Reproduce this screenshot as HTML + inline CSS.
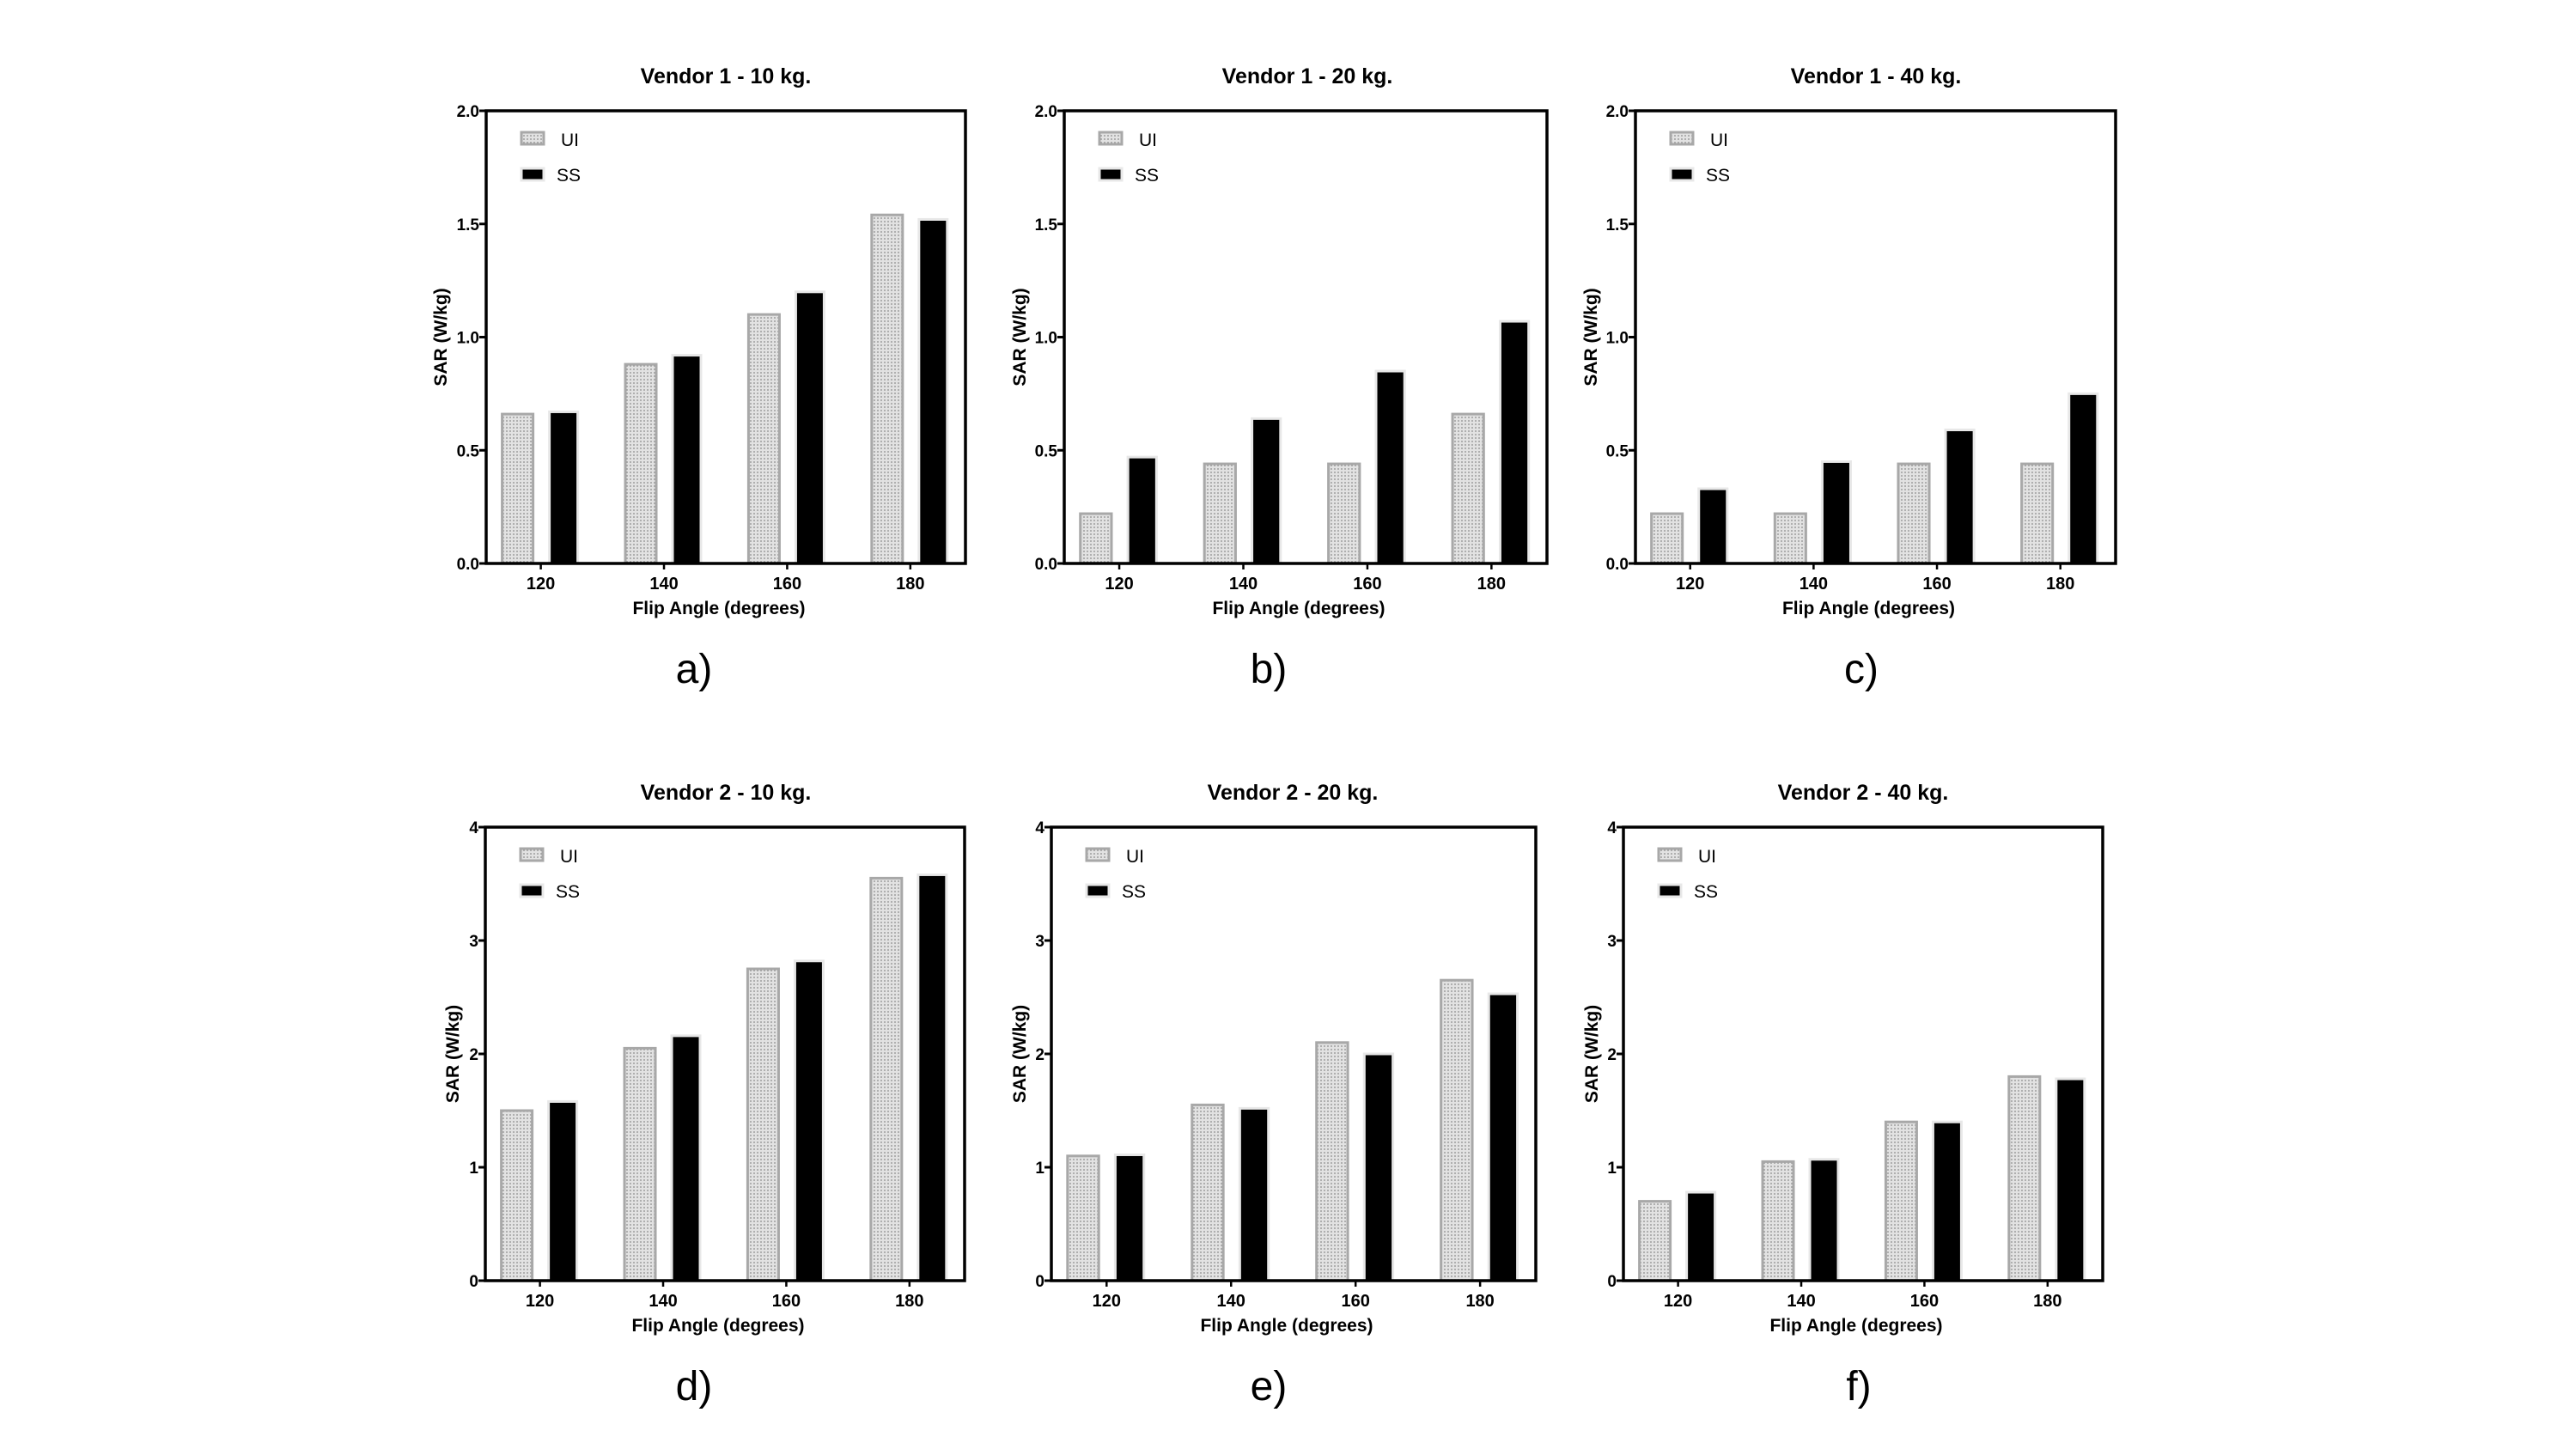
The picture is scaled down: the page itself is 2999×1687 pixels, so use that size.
<!DOCTYPE html>
<html><head><meta charset="utf-8"><style>
html,body{margin:0;padding:0;background:#fff;}
svg{display:block;font-family:"Liberation Sans",Arial,sans-serif;}
</style></head><body>
<svg id="fig" width="2999" height="1687" viewBox="0 0 2999 1687">
<defs>
<pattern id="dots" width="4" height="4" patternUnits="userSpaceOnUse">
<rect width="4" height="4" fill="#e2e2e2"/><circle cx="2" cy="2" r="0.9" fill="#8a8a8a"/>
</pattern>
</defs>
</svg>
<script>
const categories = ["120","140","160","180"];
const uiA = [0.66,0.88,1.10,1.54];
const ssA = [0.67,0.92,1.20,1.52];
const uiB = [0.22,0.44,0.44,0.66];
const ssB = [0.47,0.64,0.85,1.07];
const uiC = [0.22,0.22,0.44,0.44];
const ssC = [0.33,0.45,0.59,0.75];
const uiD = [1.50,2.05,2.75,3.55];
const ssD = [1.58,2.16,2.82,3.58];
const uiE = [1.10,1.55,2.10,2.65];
const ssE = [1.11,1.52,2.00,2.53];
const uiF = [0.70,1.05,1.40,1.80];
const ssF = [0.78,1.07,1.40,1.78];
const ticksV1 = ["0.0","0.5","1.0","1.5","2.0"];
const ticksV2 = ["0","1","2","3","4"];
const titles = ["Vendor 1 - 10 kg.","Vendor 1 - 20 kg.","Vendor 1 - 40 kg.","Vendor 2 - 10 kg.","Vendor 2 - 20 kg.","Vendor 2 - 40 kg."];
const letters = ["a)","b)","c)","d)","e)","f)"];

const NS="http://www.w3.org/2000/svg";
const svg=document.getElementById('fig');
function mk(tag,attrs,parent){const e=document.createElementNS(NS,tag);for(const k in attrs)e.setAttribute(k,attrs[k]);(parent||svg).appendChild(e);return e;}

const panels=[
 {l:566,r:1124,t:129,b:656,ui:uiA,ss:ssA,ticks:ticksV1,max:2,yt:53,title:titles[0],letter:letters[0],lx:808,tx:845},
 {l:1239,r:1801,t:129,b:656,ui:uiB,ss:ssB,ticks:ticksV1,max:2,yt:52,title:titles[1],letter:letters[1],lx:1477,tx:1522},
 {l:1904,r:2463,t:129,b:656,ui:uiC,ss:ssC,ticks:ticksV1,max:2,yt:52,title:titles[2],letter:letters[2],lx:2167,tx:2184},
 {l:565,r:1123,t:963,b:1491,ui:uiD,ss:ssD,ticks:ticksV2,max:4,yt:38,title:titles[3],letter:letters[3],lx:808,tx:845},
 {l:1224,r:1788,t:963,b:1491,ui:uiE,ss:ssE,ticks:ticksV2,max:4,yt:37,title:titles[4],letter:letters[4],lx:1477,tx:1505},
 {l:1890,r:2448,t:963,b:1491,ui:uiF,ss:ssF,ticks:ticksV2,max:4,yt:37,title:titles[5],letter:letters[5],lx:2164,tx:2169}
];

panels.forEach((p,pi)=>{
 const g=mk('g',{});
 
 
 const w=p.r-p.l, s=w/558;
 const xS=i=>p.l+w*(0.114+i*0.257);
 const yS=v=>p.b-(v/p.max)*(p.b-p.t);
 const tt=mk('text',{x:p.tx,y:p.t-32,'text-anchor':'middle','font-size':25,'font-weight':'bold'},g);
 tt.textContent=p.title;
 
 
 categories.forEach((c,i)=>{
  const cx=xS(i);
  const y1=yS(p.ui[i]);
  const r1=mk('rect',{x:cx-45*s,y:y1,width:36*s,height:p.b-y1,fill:'url(#dots)',stroke:'#a8a8a8','stroke-width':3},g);
  
  
  const y2=yS(p.ss[i]);
  const r2=mk('rect',{x:cx+10*s,y:y2,width:33*s,height:p.b-y2,fill:'#000',stroke:'#e8e8e8','stroke-width':3},g);
  
  
  const tl=mk('text',{x:cx,y:p.b+30,'text-anchor':'middle','font-size':20,'font-weight':'bold'},g);
  tl.textContent=c;
  
  
  mk('line',{x1:cx,x2:cx,y1:p.b,y2:p.b+7,stroke:'#000','stroke-width':2.5},g);
 });
 p.ticks.forEach((t,i)=>{
  const y=yS(i*p.max/(p.ticks.length-1));
  mk('line',{x1:p.l-8,x2:p.l,y1:y,y2:y,stroke:'#000','stroke-width':3},g);
  const tl=mk('text',{x:p.l-8,y:y+7,'text-anchor':'end','font-size':19,'font-weight':'bold'},g);
  tl.textContent=t;
  
  
 });
 const fr=mk('rect',{x:p.l,y:p.t,width:w,height:p.b-p.t,fill:'none',stroke:'#000','stroke-width':3.5},g);
 
 
 const xt=mk('text',{x:(p.l+p.r)/2-8,y:p.b+59,'text-anchor':'middle','font-size':21,'font-weight':'bold'},g);
 xt.textContent='Flip  Angle (degrees)';
 
 
 const yc=(p.t+p.b)/2;
 const yt=mk('text',{x:p.l-p.yt+7,y:yc,'text-anchor':'middle','font-size':21,'font-weight':'bold',transform:'rotate(-90 '+(p.l-p.yt+7)+' '+yc+')'},g);
 yt.textContent='SAR  (W/kg)';
 
 
 const lg=mk('g',{},g);
 
 
 const lx=p.l+41;
 mk('rect',{x:lx,y:p.t+25,width:26,height:14,fill:'url(#dots)',stroke:'#a8a8a8','stroke-width':3},lg);
 mk('rect',{x:lx,y:p.t+67,width:26,height:14,fill:'#000',stroke:'#e8e8e8','stroke-width':3},lg);
 const l1=mk('text',{x:lx+46,y:p.t+41,'font-size':21},lg); l1.textContent='UI';
 
 
 const l2=mk('text',{x:lx+41,y:p.t+82,'font-size':21},lg); l2.textContent='SS';
 
 
 const le=mk('text',{x:p.lx,y:p.b+139,'text-anchor':'middle','font-size':48},g);
 le.textContent=p.letter;
 
 
});
</script>
</body></html>
